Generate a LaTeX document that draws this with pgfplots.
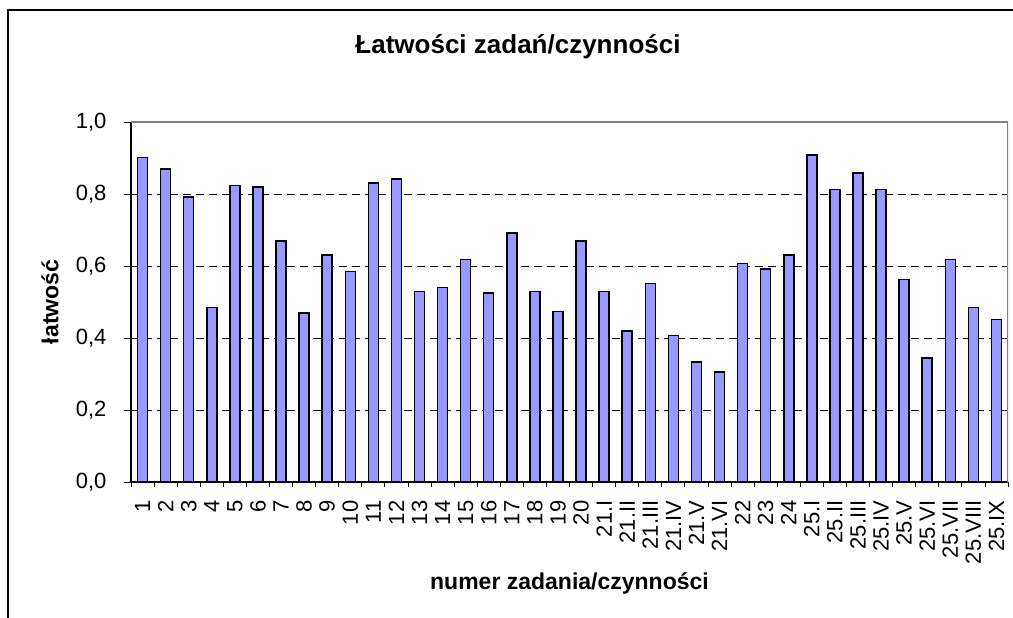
\documentclass[border=0pt]{standalone}
\usepackage{fontspec}
\setmainfont{Liberation Sans}
\usepackage{pgfplots}
\pgfplotsset{compat=1.18}
\definecolor{barblue}{HTML}{9999FF}
\definecolor{framegray}{HTML}{808080}

\begin{document}
\begin{tikzpicture}
\path[use as bounding box] (0,0) rectangle (1013pt,618pt);
\begin{axis}[
  at={(131pt,136pt)}, anchor=south west,
  scale only axis,
  width=877pt, height=360pt,
  xmin=-0.5, xmax=37.5,
  ymin=0, ymax=1,
  ybar, bar width=10pt,
  axis x line*=bottom, axis y line*=left,
  axis line style={-, black, line width=1.2pt},
  tick pos=left, tick align=outside,
  xtick={0,...,37},
  xticklabels={1,2,3,4,5,6,7,8,9,10,11,12,13,14,15,16,17,18,19,20,21.I,21.II,21.III,21.IV,21.V,21.VI,22,23,24,25.I,25.II,25.III,25.IV,25.V,25.VI,25.VII,25.VIII,25.IX},
  major x tick style={draw=none},
  minor xtick={-0.5,0.5,...,37.5},
  minor x tick style={black, line width=0.8pt},
  minor tick length=5pt,
  ytick={0,0.2,0.4,0.6,0.8,1},
  major tick length=7pt,
  ytick style={black, line width=0.8pt},
  extra y ticks={0.2,0.4,0.6,0.8},
  extra y tick labels={},
  extra y tick style={grid=major},
  grid style={black, line width=0.8pt, dash pattern=on 8pt off 5pt},
  /pgf/number format/.cd, use comma, fixed, fixed zerofill, precision=1, assume math mode=true,
  /pgfplots/.cd,
  yticklabel style={font=\fontsize{22}{24}\selectfont, xshift=-14pt},
  xticklabel style={font=\fontsize{22}{24}\selectfont, rotate=90, anchor=east, xshift=-8pt},
  ylabel={łatwość},
  xlabel={numer zadania/czynności},
  every axis y label/.style={at={(rel axis cs:0,0.5)}, xshift=-81pt, rotate=90, anchor=center, font=\bfseries\fontsize{23}{26}\selectfont},
  every axis x label/.style={at={(rel axis cs:0.5,0)}, yshift=-101pt, anchor=center, font=\bfseries\fontsize{23}{26}\selectfont},
]
\addplot[fill=barblue, draw=black, line width=1.5pt] coordinates {
  (0,0.902)(1,0.869)(2,0.791)(3,0.485)(4,0.824)(5,0.819)(6,0.669)(7,0.469)
  (8,0.630)(9,0.585)(10,0.830)(11,0.841)(12,0.529)(13,0.540)(14,0.618)(15,0.525)
  (16,0.691)(17,0.529)(18,0.474)(19,0.669)(20,0.529)(21,0.419)(22,0.552)(23,0.407)
  (24,0.334)(25,0.306)(26,0.607)(27,0.591)(28,0.630)(29,0.908)(30,0.813)(31,0.858)
  (32,0.813)(33,0.563)(34,0.345)(35,0.618)(36,0.485)(37,0.451)
};
% gray plot-area border at top and right
\draw[framegray, line width=1.3pt] (rel axis cs:0,1) -- (rel axis cs:1,1) -- (rel axis cs:1,0);
\end{axis}
\node[font=\bfseries\fontsize{26}{30}\selectfont] at (518pt,571pt) {Łatwości zadań/czynności};
% chart frame, cut off at right and bottom
\draw[black, line width=1.4pt] (8pt,0) -- (8pt,608pt) -- (1013pt,608pt);
\end{tikzpicture}
\end{document}
